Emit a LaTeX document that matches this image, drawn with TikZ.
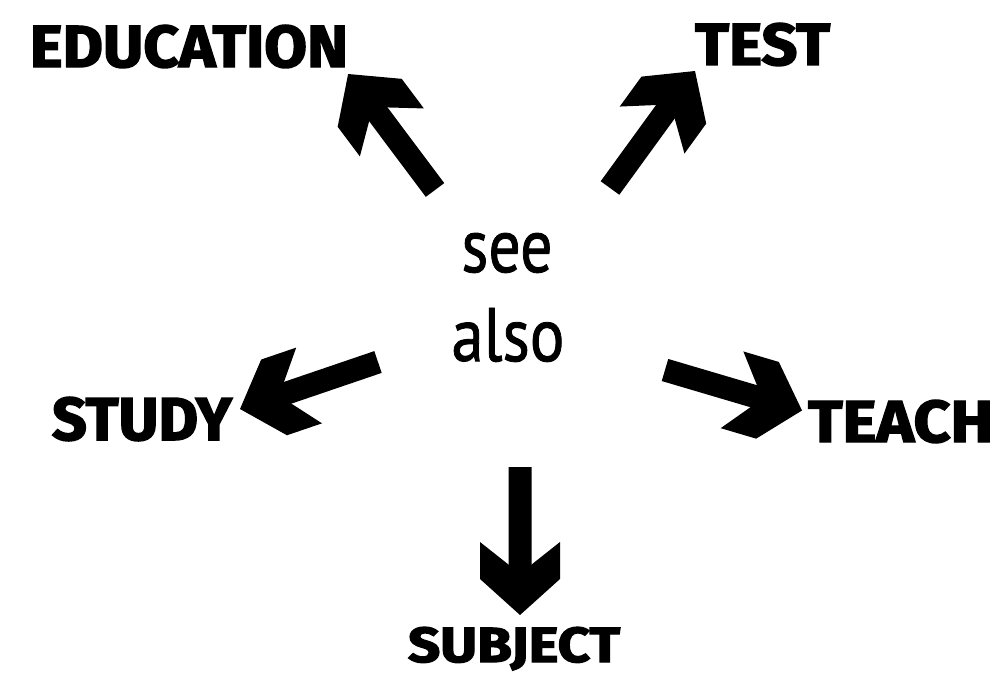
\documentclass[tikz,border=0pt]{standalone}
\usepackage{fontspec}
\setmainfont{PT Sans}
\newfontfamily\heavyfont[BoldFeatures={FakeBold=2.5}]{Fira Sans}
\newfontfamily\seefont[FakeBold=1.2]{PT Sans}
\pgfdeclarearrow{
  name = Chunky,
  setup code = {
    \pgfarrowssettipend{0pt}
    \pgfarrowssetbackend{-73pt}
    \pgfarrowssetlineend{-46pt}
    \pgfarrowshullpoint{0pt}{0pt}
    \pgfarrowsupperhullpoint{-73pt}{40pt}
    \pgfarrowsupperhullpoint{-36pt}{40pt}
  },
  drawing code = {
    \pgfpathmoveto{\pgfqpoint{0pt}{0pt}}
    \pgfpathlineto{\pgfqpoint{-36pt}{40pt}}
    \pgfpathlineto{\pgfqpoint{-73pt}{40pt}}
    \pgfpathlineto{\pgfqpoint{-50pt}{11pt}}
    \pgfpathlineto{\pgfqpoint{-50pt}{-11pt}}
    \pgfpathlineto{\pgfqpoint{-73pt}{-40pt}}
    \pgfpathlineto{\pgfqpoint{-36pt}{-40pt}}
    \pgfpathclose
    \pgfusepathqfill
  },
}
\tikzset{
  lbl/.style={inner sep=0pt, outer sep=0pt, font=\heavyfont\bfseries},
  txt/.style={inner sep=0pt, outer sep=0pt, anchor=base, font=\seefont\fontsize{72}{80}\selectfont},
  bigarrow/.style={line width=23pt, -Chunky},
}
\begin{document}
\begin{tikzpicture}[x=1pt,y=-1pt]
\useasboundingbox (0,0) rectangle (996,677);
% labels
\node[lbl, anchor=base west] (edu)   at (30,67)  {\resizebox{318pt}{42pt}{EDUCATION}};
\node[lbl, anchor=base west] (test)  at (695,65) {\resizebox{135pt}{42pt}{TEST}};
\node[lbl, anchor=base west] (study) at (52,440) {\resizebox{180pt}{43pt}{STUDY}};
\node[lbl, anchor=base west] (teach) at (808,442) {\resizebox{185pt}{42pt}{TEACH}};
\node[lbl, anchor=base west] (subj)  at (408,662) {\resizebox{212pt}{35pt}{SUBJECT}};
% centre text
\node[txt] (see)  at (507,272) {\resizebox{91pt}{39pt}{see}};
\node[txt] (also) at (508,361) {\resizebox{113pt}{53pt}{also}};
% arrow tails
\coordinate (e0) at (435,190);
\coordinate (t0) at (610,188);
\coordinate (s0) at (378,362);
\coordinate (h0) at (665,370);
\coordinate (b0) at (520,467);
% arrows
\draw[bigarrow] (e0) -- ([yshift=-6pt]edu.south east);
\draw[bigarrow] (t0) -- ([yshift=-5pt]test.south west);
\draw[bigarrow] (s0) -- ([shift={(8pt,10pt)}]study.east);
\draw[bigarrow] (h0) -- ([shift={(-6pt,11pt)}]teach.west);
\draw[bigarrow] (b0) -- ([shift={(6pt,12pt)}]subj.north);
\end{tikzpicture}
\end{document}
